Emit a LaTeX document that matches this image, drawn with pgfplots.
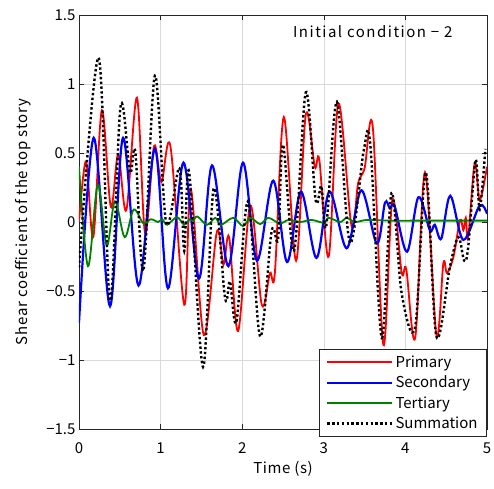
\documentclass[border=0pt]{standalone}
\usepackage{fontspec}
\setmainfont{Noto Sans CJK JP}
\usepackage{pgfplots}
\pgfplotsset{compat=1.18}

\definecolor{mgreen}{rgb}{0,0.5,0}
\definecolor{axgray}{rgb}{0.15,0.15,0.15}

\begin{document}
\begin{tikzpicture}
\begin{axis}[
    scale only axis,
    width=408pt, height=414pt,
    xmin=0, xmax=5, ymin=-1.5, ymax=1.5,
    xtick={0,1,2,3,4,5},
    ytick={-1.5,-1,-0.5,0,0.5,1,1.5},
    yticklabels={−1.5,−1,−0.5,0,0.5,1,1.5},
    grid=major,
    grid style={line width=0.6pt, draw=black!15},
    axis line style={axgray, line width=0.6pt},
    tick style={axgray, line width=0.6pt},
    tick align=inside,
    major tick length=5pt,
    font=\fontsize{15}{18}\selectfont,
    /pgf/number format/assume math mode=true,
    xticklabel style={yshift=-10pt},
    xlabel={\addfontfeature{LetterSpace=4}Time (s)},
    ylabel={\addfontfeature{LetterSpace=5}Shear coefficient of the top story},
    xlabel style={yshift=-1pt},
    ylabel style={yshift=8pt},
    legend cell align=left,
    legend style={at={(1,0)}, anchor=south east, yshift=-8pt,
        draw=axgray, line width=0.8pt, fill=white,
        font=\fontsize{15}{18}\selectfont,
        row sep=3.2pt, inner xsep=7pt, inner ysep=4.5pt},
    legend image code/.code={\draw[#1] (0pt,0pt) -- (65pt,0pt);},
]
% Primary
\addplot[red, line width=1.8pt, smooth, tension=0.55] coordinates {
(0,0.0) (0.086,0.44) (0.175,-0.11) (0.28,0.81) (0.39,0.11) (0.48,0.49)
(0.58,0.087) (0.71,0.90) (0.81,-0.08) (0.92,0.55) (1.01,0.29) (1.12,0.55)
(1.29,-0.60) (1.37,0.24) (1.53,-0.82) (1.69,-0.07) (1.77,-0.31) (1.84,-0.11)
(1.95,-0.79) (2.10,0.12) (2.24,-0.60) (2.34,-0.37) (2.40,-0.37) (2.51,0.76)
(2.66,-0.28) (2.78,0.78) (2.89,0.40) (2.945,0.45) (3.06,-0.25) (3.18,0.86)
(3.34,-0.03) (3.42,0.28) (3.50,0.39) (3.60,0.69) (3.73,-0.89) (3.84,0.16)
(3.955,-0.37) (4.01,-0.34) (4.12,-0.84) (4.24,0.36) (4.38,-0.82) (4.465,-0.30)
(4.51,-0.37) (4.59,-0.25) (4.67,0.015) (4.71,-0.06) (4.74,0.03) (4.77,-0.11)
(4.85,0.43) (4.91,0.16) (5.0,0.40)
};
\addlegendentry{Primary}
% Secondary
\addplot[blue, line width=2.2pt, smooth, tension=0.55] coordinates {
(0,-0.73) (0.18,0.61) (0.38,-0.61) (0.54,0.61) (0.73,-0.46) (0.93,0.53)
(1.09,-0.48) (1.28,0.43) (1.47,-0.41) (1.63,0.41) (1.83,-0.32) (2.01,0.43)
(2.18,-0.28) (2.38,0.30) (2.55,-0.29) (2.72,0.22) (2.91,-0.26) (3.07,0.22)
(3.28,-0.19) (3.46,0.23) (3.65,-0.155) (3.75,0.14) (3.81,0.10) (3.87,0.11)
(4.02,-0.215) (4.16,0.18) (4.30,-0.06) (4.36,-0.02) (4.44,-0.12) (4.55,0.19)
(4.71,-0.13) (4.91,0.12) (5.0,0.06)
};
\addlegendentry{Secondary}
% Tertiary
\addplot[mgreen, line width=1.8pt, smooth, tension=0.55] coordinates {
(0,0.40) (0.11,-0.32) (0.23,0.27) (0.34,-0.17) (0.44,0.15) (0.56,-0.11)
(0.67,0.09) (0.79,-0.01) (0.88,0.02) (0.97,0.0) (1.02,0.02) (1.08,-0.02)
(1.20,0.035) (1.29,-0.02) (1.36,0.02) (1.40,0.01) (1.45,0.04) (1.57,-0.02)
(1.67,0.03) (1.74,-0.02) (1.89,0.03) (2.01,-0.03) (2.10,0.03) (2.22,-0.015)
(2.32,0.03) (2.46,-0.01) (2.57,0.015) (2.71,0.0) (2.85,0.015) (3.0,-0.005)
(3.06,0.03) (3.20,0.0) (3.28,0.03) (3.38,0.0) (3.53,0.015) (3.8,0.01)
(4.2,0.01) (4.6,0.01) (5.0,0.01)
};
\addlegendentry{Tertiary}
% Summation
\addplot[black, line width=2.4pt, dash pattern=on 2.4pt off 2.4pt, smooth, tension=0.55] coordinates {
(0,-0.33) (0.24,1.19) (0.38,-0.57) (0.51,0.84) (0.625,0.36) (0.69,0.51)
(0.79,-0.35) (0.93,1.06) (1.07,-0.01) (1.23,0.39) (1.29,-0.21) (1.35,0.36)
(1.52,-1.05) (1.65,0.24) (1.79,-0.55) (1.85,-0.43) (1.93,-0.72) (2.07,0.15)
(2.22,-0.83) (2.36,-0.07) (2.44,-0.12) (2.50,0.56) (2.635,-0.21) (2.78,0.94)
(2.90,0.16) (2.97,0.26) (3.03,-0.03) (3.16,0.87) (3.32,-0.15) (3.49,0.52)
(3.57,0.56) (3.71,-0.84) (3.83,0.21) (3.955,-0.52) (4.12,-0.76) (4.25,0.36)
(4.38,-0.83) (4.547,-0.32) (4.65,-0.11) (4.72,-0.28) (4.77,-0.18) (4.86,0.45)
(4.91,0.09) (4.98,0.53)
};
\addlegendentry{Summation}
\node[font=\fontsize{15}{18}\selectfont] at (axis cs:3.60,1.377)
    {\addfontfeature{LetterSpace=10}Initial condition − 2};
\end{axis}
\pgfresetboundingbox
\path (current axis.south west) ++(-79pt,-59pt) rectangle ++(494pt,488pt);
\end{tikzpicture}
\end{document}
